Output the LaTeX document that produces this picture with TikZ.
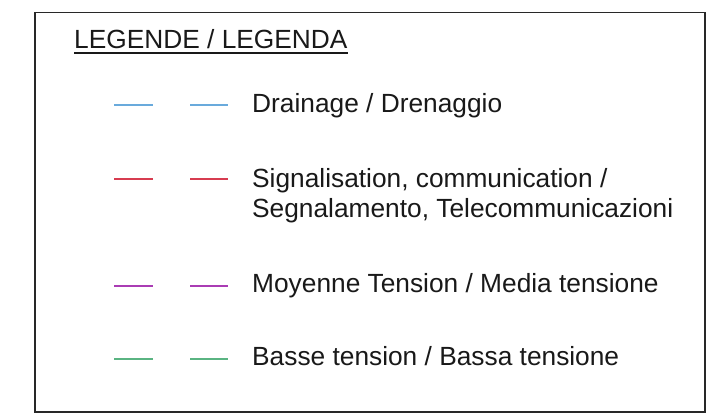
\documentclass[tikz,border=0pt]{standalone}
\usepackage{fontspec}
\setmainfont{Liberation Sans}
\usetikzlibrary{calc}
\definecolor{drain}{RGB}{105,170,220}
\definecolor{signal}{RGB}{215,60,80}
\definecolor{mtcol}{RGB}{170,60,180}
\definecolor{btcol}{RGB}{90,180,130}
\definecolor{frame}{RGB}{40,40,40}
\tikzset{
  label/.style={anchor=base west, inner sep=0pt, text=black!90, font=\fontsize{26.3}{30}\selectfont},
  swatch/.style={line width=1.1pt},
}
\begin{document}
\begin{tikzpicture}[x=1pt,y=-1pt]
\useasboundingbox (0,0) rectangle (717,413);
\fill[white] (0,0) rectangle (717,413);
\draw[frame, line width=1.6pt] (35,12.5) rectangle (705,412);
% title
\node[label] (title) at (74,48) {LEGENDE / LEGENDA};
\draw[black!90, line width=1.5pt] ($(title.base west)+(0,5)$) -- ($(title.base east)+(0,5)$);
% rows
\node[label] (drain) at (252,112) {Drainage / Drenaggio};
\node[label] (sigA) at (252,187) {Signalisation, communication /};
\node[label] (sigB) at (252,217) {Segnalamento, Telecommunicazioni};
\node[label] (mt) at (252,292) {Moyenne Tension / Media tensione};
\node[label] (bt) at (252,365) {Basse tension / Bassa tensione};
% swatches
\foreach \y/\c in {105/drain,179/signal,286/mtcol,359/btcol}{
  \draw[swatch,color=\c] (114,\y) -- (153,\y);
  \draw[swatch,color=\c] (190,\y) -- (228,\y);
}
\end{tikzpicture}
\end{document}
